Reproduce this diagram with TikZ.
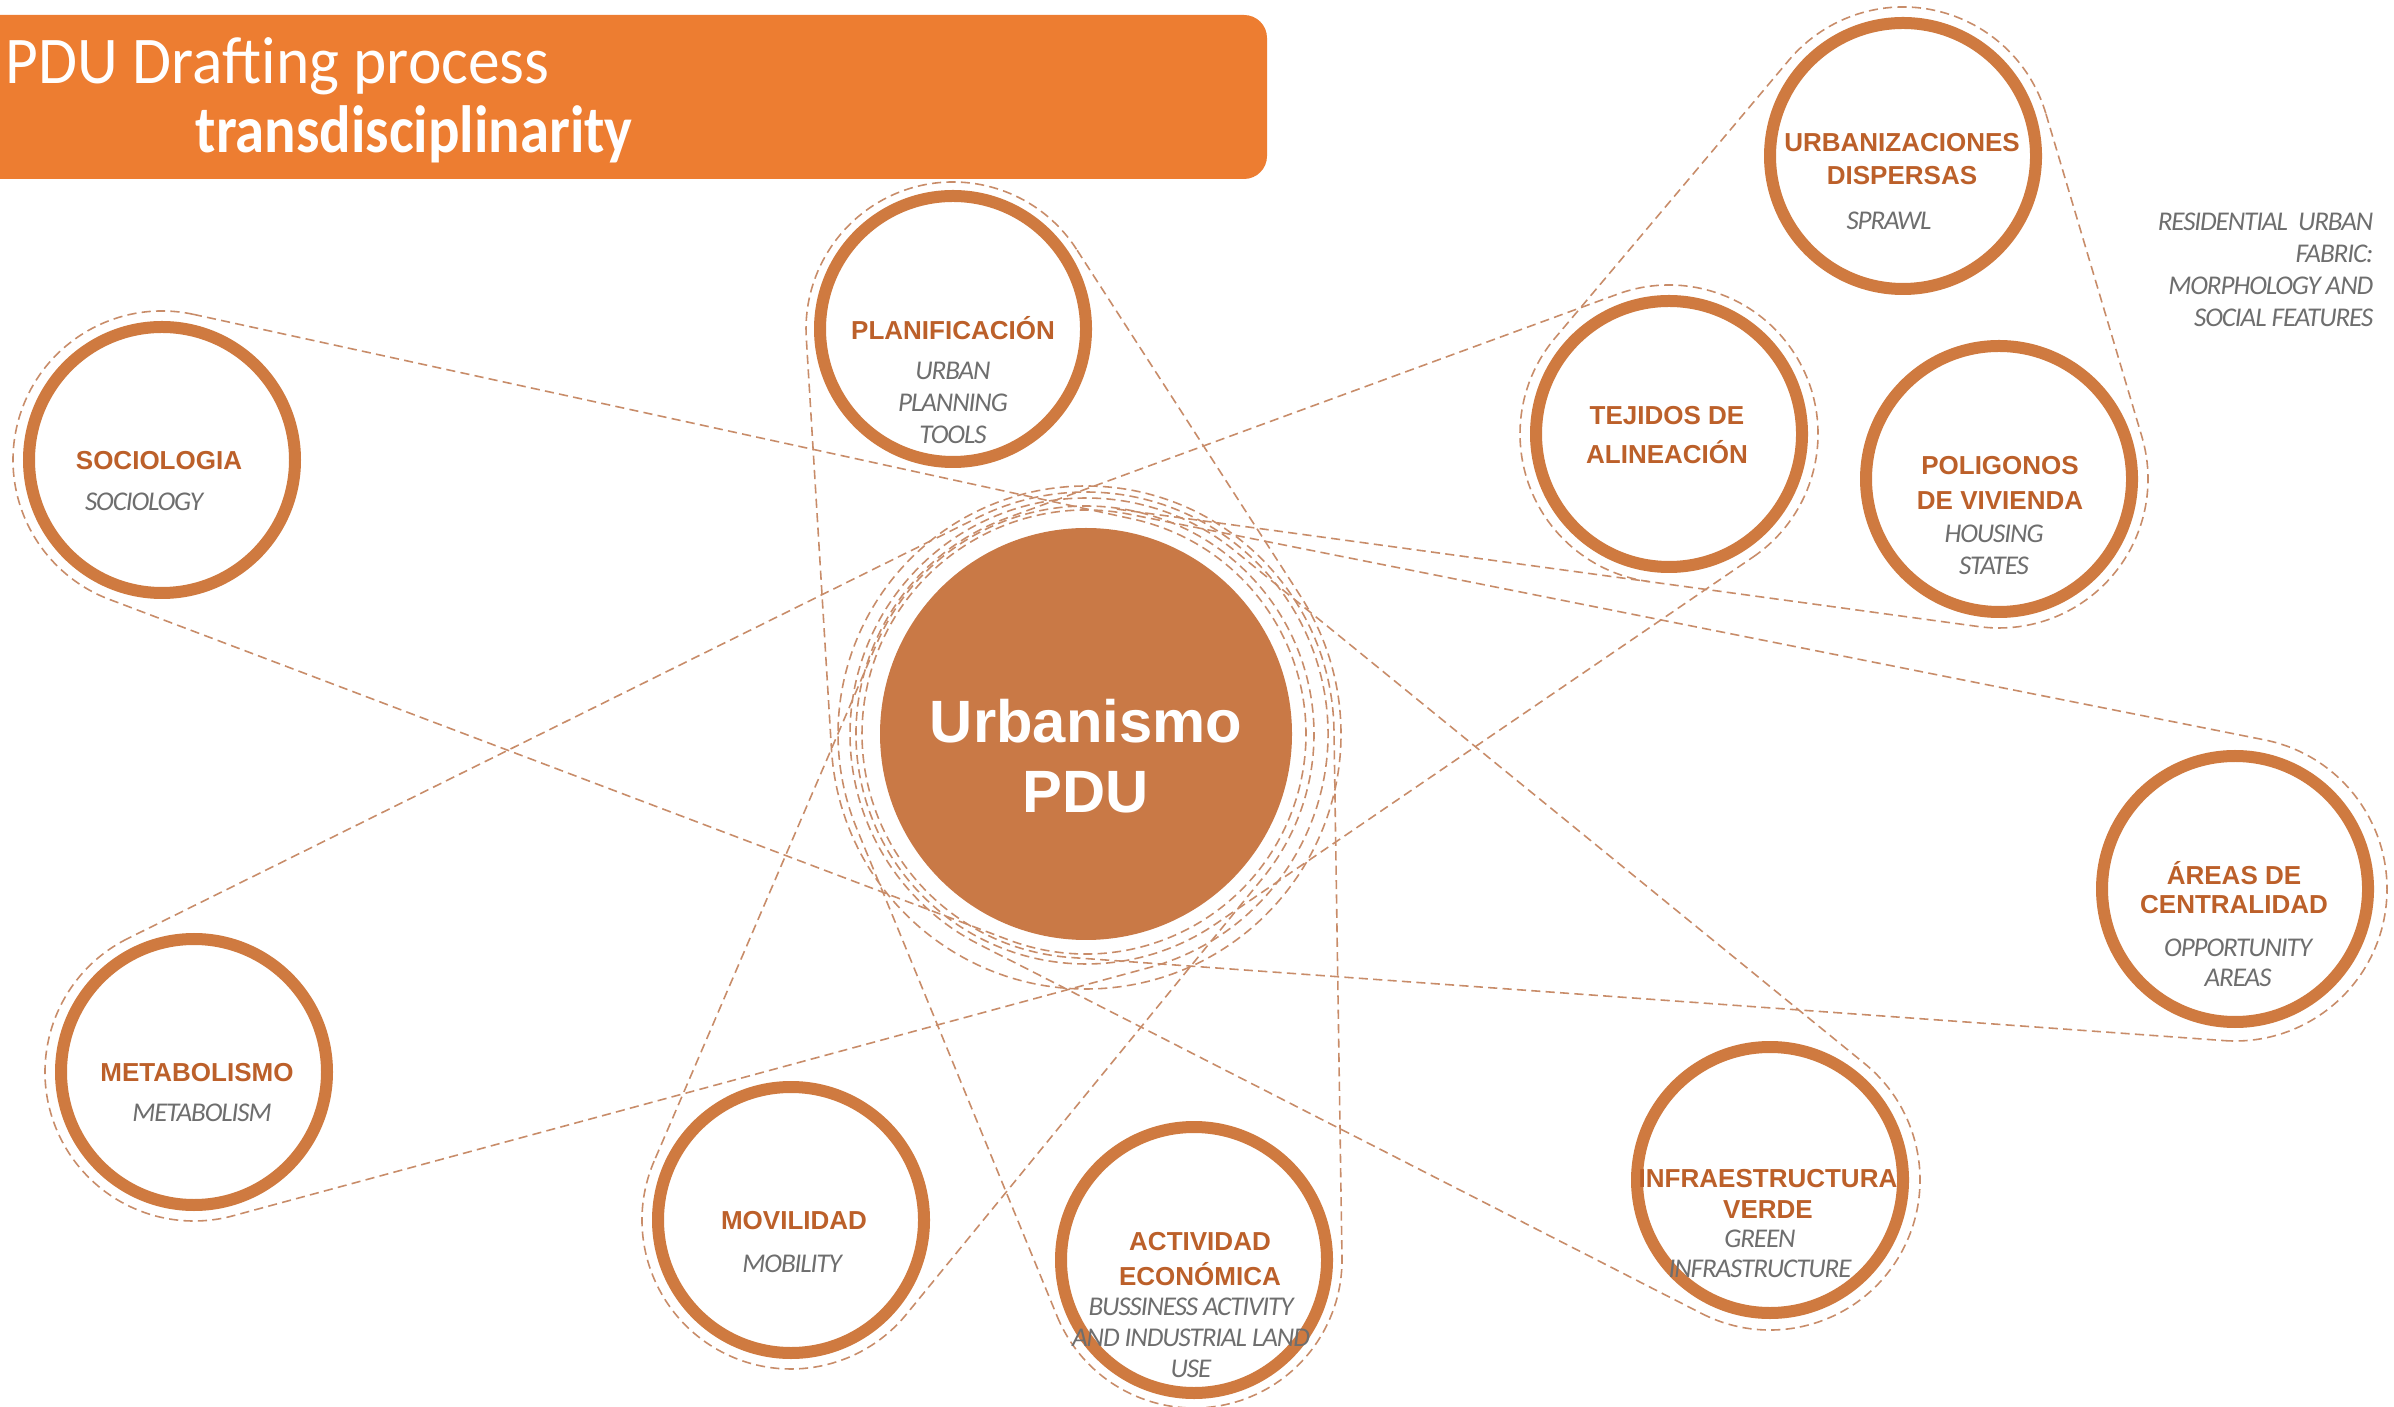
\documentclass[tikz,border=0pt]{standalone}
\usepackage{fontspec}
\setmainfont{Liberation Sans}
\newfontfamily\calibA[FakeStretch=0.95]{Carlito}
\newfontfamily\calibB[FakeStretch=0.88]{Carlito}
\newfontfamily\subfont[LetterSpace=-4]{Carlito}
\usetikzlibrary{calc,backgrounds}
\definecolor{titleor}{RGB}{237,125,49}
\definecolor{ringcol}{RGB}{207,122,64}
\definecolor{ctrcol}{RGB}{201,121,70}
\definecolor{headcol}{RGB}{188,96,42}
\definecolor{subcol}{RGB}{110,110,110}
\definecolor{dashcol}{RGB}{200,140,105}
\tikzset{
 belt/.style={draw=dashcol, line width=0.45pt, dash pattern=on 2.6pt off 1.5pt},
 ring/.style={circle, draw=ringcol, line width=0.12cm, fill=white, minimum size=2.66cm, inner sep=0pt},
 hd/.style={font=\bfseries\fontsize{7.4}{#1}\selectfont, text=headcol, align=center, inner sep=0pt},
 hd/.default=9.6,
 sb/.style={font=\subfont\itshape\fontsize{7.7}{#1}\selectfont, text=subcol, align=center, inner sep=0pt},
 sb/.default=9.1,
}
% belt around satellite #1 (at #2,#3, halo radius #4) and the centre (ring radius #5)
\newcommand\beltdraw[5]{%
 \pgfmathsetmacro\bdx{10.86-(#2)}%
 \pgfmathsetmacro\bdy{-7.34-(#3)}%
 \pgfmathsetmacro\bd{veclen(\bdx,\bdy)}%
 \pgfmathsetmacro\bth{atan2(\bdy,\bdx)}%
 \pgfmathsetmacro\bal{acos(((#4)-(#5))/\bd)}%
 \pgfmathsetmacro\ba{\bth+\bal}%
 \pgfmathsetmacro\bb{\bth+360-\bal}%
 \pgfmathsetmacro\bc{\bb+2*\bal}%
 \draw[belt] ($(#1)+(\ba:#4)$) arc[start angle=\ba, end angle=\bb, radius=#4]
   -- ($(ctr)+(\bb:#5)$) arc[start angle=\bb, end angle=\bc, radius=#5] -- cycle;
}
\begin{document}
\begin{tikzpicture}
\useasboundingbox (0,0) rectangle (23.94,-14.07);

% satellites
\node[ring] (soc)  at (1.62,-4.60) {};
\node[ring] (plan) at (9.53,-3.29) {};
\node[ring] (urb)  at (19.03,-1.56) {};
\node[ring] (tej)  at (16.69,-4.34) {};
\node[ring] (pol)  at (19.99,-4.79) {};
\node[ring] (are)  at (22.35,-8.89) {};
\node[ring] (inf)  at (17.70,-11.80) {};
\node[ring] (act)  at (11.94,-12.60) {};
\node[ring] (mov)  at (7.91,-12.20) {};
\node[ring] (met)  at (1.94,-10.72) {};

% centre
\node[circle, fill=ctrcol, minimum size=4.12cm, inner sep=0pt] (ctr) at (10.86,-7.34) {};
\node[font=\bfseries\fontsize{17}{20}\selectfont, text=white, align=center, inner sep=0pt] (ctrT) at (10.86,-7.56) {Urbanismo\\PDU};

% belts
\begin{pgfonlayer}{background}
\fill[white] (0,0) rectangle (23.94,-14.07);
\beltdraw{soc}{1.62}{-4.60}{1.49}{2.20}
\beltdraw{plan}{9.53}{-3.29}{1.47}{2.55}
\beltdraw{tej}{16.69}{-4.34}{1.49}{2.30}
\beltdraw{are}{22.35}{-8.89}{1.52}{2.24}
\beltdraw{inf}{17.70}{-11.80}{1.50}{2.36}
\beltdraw{act}{11.94}{-12.60}{1.48}{2.48}
\beltdraw{mov}{7.91}{-12.20}{1.49}{2.28}
\beltdraw{met}{1.94}{-10.72}{1.49}{2.42}
\draw[belt] ($(urb)+(16.6:1.49)$) arc[start angle=16.6, end angle=139.9, radius=1.49]
  -- ($(tej)+(139.9:1.49)$) arc[start angle=139.9, end angle=262.2, radius=1.49]
  -- ($(pol)+(262.2:1.49)$) arc[start angle=262.2, end angle=376.6, radius=1.49] -- cycle;
\draw[belt] ($(ctr)+(82.2:2.27)$) -- ($(tej)+(262.2:1.49)$);
\end{pgfonlayer}

% labels
\node[hd] (socH) at (1.59,-4.61) {SOCIOLOGIA};
\node[sb] (socS) at (1.44,-5.02) {SOCIOLOGY};
\node[hd] (planH) at (9.53,-3.28) {PLANIFICACIÓN};
\node[sb] (planS) at (9.53,-4.03) {URBAN\\PLANNING\\TOOLS};
\node[hd=9.6] (urbH) at (19.02,-1.59) {URBANIZACIONES\\DISPERSAS};
\node[sb] (urbS) at (18.89,-2.21) {SPRAWL};
\node[hd=11.3] (tejH) at (16.67,-4.35) {TEJIDOS DE\\ALINEACIÓN};
\node[hd=10] (polH) at (20.00,-4.83) {POLIGONOS\\DE VIVIENDA};
\node[sb] (polS) at (19.94,-5.50) {HOUSING\\STATES};
\node[hd=8.3] (areH) at (22.34,-8.88) {ÁREAS DE\\CENTRALIDAD};
\node[sb=8.7] (areS) at (22.38,-9.63) {OPPORTUNITY\\AREAS};
\node[hd=8.7] (infH) at (17.68,-11.94) {INFRAESTRUCTURA\\VERDE};
\node[sb=8.7] (infS) at (17.60,-12.54) {GREEN\\INFRASTRUCTURE};
\node[hd=10] (actH) at (12.00,-12.59) {ACTIVIDAD\\ECONÓMICA};
\node[sb=8.9] (actS) at (11.91,-13.38) {BUSSINESS ACTIVITY\\AND INDUSTRIAL LAND\\USE};
\node[hd] (movH) at (7.94,-12.21) {MOVILIDAD};
\node[sb] (movS) at (7.92,-12.64) {MOBILITY};
\node[hd] (metH) at (1.97,-10.73) {METABOLISMO};
\node[sb] (metS) at (2.02,-11.13) {METABOLISM};
\node[sb, anchor=east, align=right] (rtxt) at (23.74,-2.70) {RESIDENTIAL\ \ URBAN\\FABRIC:\\MORPHOLOGY AND\\SOCIAL FEATURES};

% title bar
\fill[titleor, rounded corners=0.23cm] (-0.3,-0.15) rectangle (12.67,-1.79);
\node[anchor=base west, font=\calibA\fontsize{19}{22}\selectfont, text=white, inner sep=0pt] (ttl) at (0.05,-0.84) {PDU Drafting process};
\node[anchor=base west, font=\calibB\bfseries\fontsize{19}{22}\selectfont, text=white, inner sep=0pt] (ttl2) at (1.95,-1.53) {transdisciplinarity};
\end{tikzpicture}
\end{document}
